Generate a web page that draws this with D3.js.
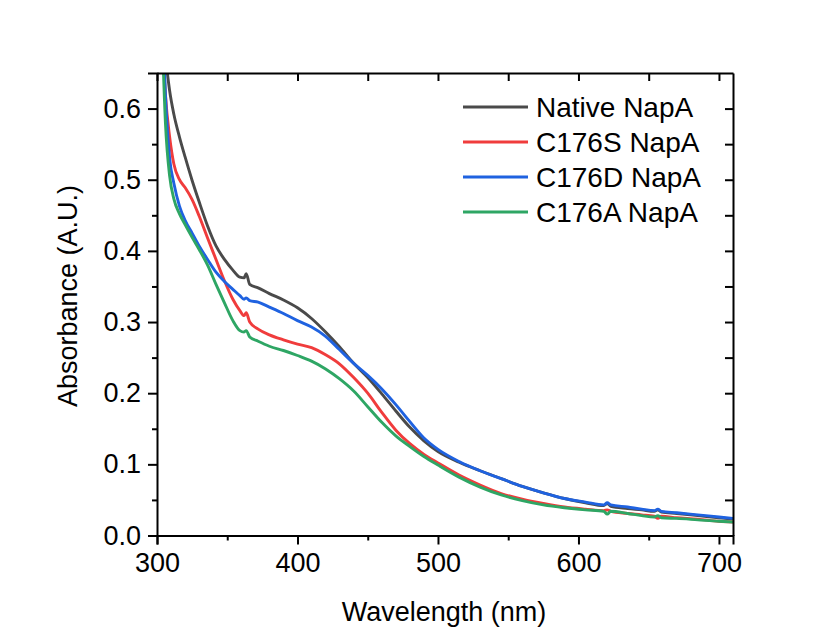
<!DOCTYPE html>
<html>
<head>
<meta charset="utf-8">
<script src="https://cdn.jsdelivr.net/npm/d3@7"></script>
<style>
  body { margin: 0; background: #fff; }
  svg { font-family: "Liberation Sans", Arial, sans-serif; }
</style>
</head>
<body>
<svg id="chart" width="835" height="638"></svg>
<script>
// wavelength grid (nm), shared by all spectra
var wavelength = [303, 306, 309, 312, 316, 320, 325, 330, 336, 342, 348, 354, 359, 362, 363.5, 366, 372, 380, 390, 400,
    410, 420, 430, 440, 450, 460, 470, 480, 490, 500, 515, 530, 545, 560, 575, 590, 605, 618, 620.5, 623,
    635, 645, 654, 656.5, 659, 670, 685, 700, 710];

var nativeNapA = [0.74, 0.675, 0.625, 0.592, 0.56, 0.532, 0.499, 0.469, 0.435, 0.407, 0.388, 0.373, 0.363, 0.362, 0.368, 0.353, 0.348, 0.340, 0.331, 0.320,
    0.305, 0.286, 0.265, 0.242, 0.222, 0.199, 0.175, 0.152, 0.133, 0.118, 0.103, 0.091, 0.080, 0.069, 0.060, 0.052, 0.046, 0.042, 0.045, 0.041,
    0.038, 0.036, 0.034, 0.036, 0.033, 0.031, 0.028, 0.025, 0.023];

var c176sNapA = [0.74, 0.62, 0.56, 0.522, 0.500, 0.489, 0.472, 0.449, 0.418, 0.388, 0.358, 0.332, 0.316, 0.309, 0.313, 0.300, 0.290, 0.282, 0.275, 0.269,
    0.264, 0.254, 0.241, 0.222, 0.200, 0.173, 0.148, 0.129, 0.114, 0.102, 0.085, 0.071, 0.059, 0.051, 0.045, 0.040, 0.037, 0.035, 0.036, 0.034,
    0.031, 0.029, 0.027, 0.024, 0.027, 0.025, 0.023, 0.020, 0.019];

var c176dNapA = [0.78, 0.62, 0.53, 0.495, 0.463, 0.443, 0.425, 0.407, 0.388, 0.370, 0.357, 0.346, 0.337, 0.332, 0.334, 0.330, 0.328, 0.321, 0.312, 0.302,
    0.293, 0.280, 0.261, 0.242, 0.225, 0.206, 0.184, 0.160, 0.137, 0.121, 0.104, 0.091, 0.080, 0.069, 0.060, 0.052, 0.047, 0.043, 0.046, 0.043,
    0.040, 0.037, 0.035, 0.037, 0.034, 0.032, 0.029, 0.026, 0.024];

var c176aNapA = [0.75, 0.58, 0.505, 0.473, 0.452, 0.437, 0.419, 0.402, 0.380, 0.353, 0.327, 0.302, 0.288, 0.286, 0.288, 0.279, 0.273, 0.266, 0.260, 0.253,
    0.245, 0.234, 0.220, 0.203, 0.181, 0.159, 0.140, 0.125, 0.111, 0.099, 0.082, 0.068, 0.057, 0.049, 0.043, 0.039, 0.036, 0.034, 0.030, 0.034,
    0.031, 0.028, 0.026, 0.028, 0.025, 0.024, 0.022, 0.020, 0.019];

var seriesNames = ["Native NapA", "C176S NapA", "C176D NapA", "C176A NapA"];
var seriesValues = [nativeNapA, c176sNapA, c176dNapA, c176aNapA];
var seriesColors = ["#4a4a4a", "#f03c3c", "#1f62e0", "#2ea664"];

var xTicks = [300, 400, 500, 600, 700];
var yTicks = [0.0, 0.1, 0.2, 0.3, 0.4, 0.5, 0.6];

var svg = d3.select("#chart");

var plotLeft = 157, plotRight = 733, plotTop = 73, plotBottom = 535.5;

var x = d3.scaleLinear().domain([300, 710]).range([plotLeft, plotRight]);
var y = d3.scaleLinear().domain([0, 0.65]).range([plotBottom, plotTop]);

svg.append("defs").append("clipPath")
    .attr("id", "plot-clip")
    .append("rect")
    .attr("x", plotLeft)
    .attr("y", plotTop)
    .attr("width", plotRight - plotLeft)
    .attr("height", plotBottom - plotTop);

//spectra
var line = d3.line()
    .x(function (d) { return x(d[0]); })
    .y(function (d) { return y(d[1]); })
    .curve(d3.curveMonotoneX);

var lines = svg.append("g").attr("clip-path", "url(#plot-clip)");
seriesValues.forEach(function (vals, i) {
    lines.append("path")
        .datum(wavelength.map(function (w, j) { return [w, vals[j]]; }))
        .attr("d", line)
        .attr("fill", "none")
        .attr("stroke", seriesColors[i])
        .attr("stroke-width", 2.9)
        .attr("stroke-linejoin", "round");
});

//axes: major + minor ticks, outward on bottom/left, inward on top/right
var xMinor = d3.range(350, 710, 100);
var yMinor = d3.range(0.05, 0.65, 0.1);

function styleAxis(g) {
    g.select(".domain").attr("stroke", "#000").attr("stroke-width", 2);
    g.selectAll(".tick line").attr("stroke", "#000").attr("stroke-width", 2);
    g.selectAll(".tick text").attr("font-size", "27px").attr("fill", "#000");
}

svg.append("g")
    .attr("transform", "translate(0," + plotBottom + ")")
    .call(d3.axisBottom(x).tickValues(xTicks).tickSize(9).tickPadding(8).tickFormat(d3.format("d")))
    .call(styleAxis);

svg.append("g")
    .attr("transform", "translate(0," + plotBottom + ")")
    .call(d3.axisBottom(x).tickValues(xMinor).tickSize(5).tickFormat(""))
    .call(styleAxis)
    .call(function (g) { g.select(".domain").remove(); });

svg.append("g")
    .attr("transform", "translate(" + plotLeft + ",0)")
    .call(d3.axisLeft(y).tickValues(yTicks).tickSize(9).tickPadding(7).tickFormat(d3.format(".1f")))
    .call(styleAxis);

svg.append("g")
    .attr("transform", "translate(" + plotLeft + ",0)")
    .call(d3.axisLeft(y).tickValues(yMinor).tickSize(5).tickFormat(""))
    .call(styleAxis)
    .call(function (g) { g.select(".domain").remove(); });

svg.append("g")
    .attr("transform", "translate(0," + plotTop + ")")
    .call(d3.axisBottom(x).tickValues(xTicks.concat(xMinor)).tickSizeInner(8).tickSizeOuter(0).tickFormat(""))
    .call(styleAxis);

svg.append("g")
    .attr("transform", "translate(" + plotRight + ",0)")
    .call(d3.axisLeft(y).tickValues(yTicks.concat(yMinor)).tickSizeInner(8).tickSizeOuter(0).tickFormat(""))
    .call(styleAxis);

//axis titles
svg.append("text")
    .attr("x", (plotLeft + plotRight) / 2 - 1)
    .attr("y", 621)
    .attr("text-anchor", "middle")
    .attr("font-size", "27px")
    .text("Wavelength (nm)");

svg.append("text")
    .attr("transform", "translate(77,296) rotate(-90)")
    .attr("text-anchor", "middle")
    .attr("font-size", "27px")
    .text("Absorbance (A.U.)");

//legend
var legend = svg.append("g");
seriesNames.forEach(function (name, i) {
    var ly = 107 + i * 35;
    legend.append("line")
        .attr("x1", 463).attr("x2", 528)
        .attr("y1", ly).attr("y2", ly)
        .attr("stroke", seriesColors[i])
        .attr("stroke-width", 3);
    legend.append("text")
        .attr("x", 536)
        .attr("y", ly)
        .attr("dy", "0.36em")
        .attr("font-size", "28px")
        .text(name);
});
</script>
</body>
</html>
